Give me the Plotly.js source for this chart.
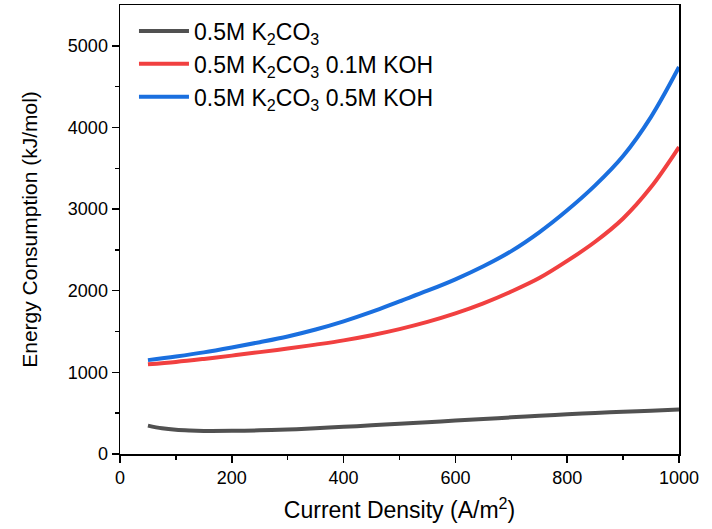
<!DOCTYPE html>
<html>
<head>
<meta charset="utf-8">
<script src="https://cdn.plot.ly/plotly-3.0.1.min.js"></script>
<style>html,body{margin:0;padding:0;background:#fff;}#chart{width:712px;height:529px;}</style>
</head>
<body>
<div id="chart"></div>
<script>
const currentDensity = [50,100,150,200,250,300,350,400,450,500,550,600,650,700,750,800,850,900,950,1000];
const currentDensityK2co3 = [50,75,100,125,150,200,250,300,350,400,450,500,550,600,650,700,750,800,850,900,950,1000];
const k2co3 = [348,315,296,287,283,284,290,300,316,333,351,370,389,409,429,449,468,486,502,517,531,544];
const k2co3Koh01 = [1098,1128,1165,1205,1248,1292,1340,1392,1455,1530,1618,1722,1845,1990,2155,2365,2600,2885,3270,3760];
const k2co3Koh05 = [1150,1195,1245,1305,1370,1440,1525,1625,1740,1870,2000,2140,2300,2485,2715,2985,3290,3650,4130,4740];
const seriesNames = ["0.5M K<sub>2</sub>CO<sub>3</sub>", "0.5M K<sub>2</sub>CO<sub>3</sub> 0.1M KOH", "0.5M K<sub>2</sub>CO<sub>3</sub> 0.5M KOH"];
const seriesColors = ["#515151", "#F14040", "#1A6FDF"];
const xTitle = "Current Density (A/m<sup>2</sup>)";
const yTitle = "Energy Consumption (kJ/mol)";

const xs = [currentDensityK2co3, currentDensity, currentDensity];
const ys = [k2co3, k2co3Koh01, k2co3Koh05];
const traces = ys.map((y, i) => ({
  x: xs[i], y: y, type: "scatter", mode: "lines",
  name: seriesNames[i],
  line: {color: seriesColors[i], width: 4, shape: "spline", smoothing: 1}
}));

const axisCommon = {
  showgrid: false, zeroline: false, showline: true, linecolor: "#000", linewidth: 1.5,
  mirror: true, ticks: "outside", ticklen: 7, tickwidth: 1.5, tickcolor: "#000",
  tickfont: {family: "Liberation Sans, Arial, sans-serif", size: 18, color: "#000"}
};

const layout = {
  width: 712, height: 529,
  margin: {l: 120, r: 33, t: 5, b: 75},
  paper_bgcolor: "#fff", plot_bgcolor: "#fff",
  font: {family: "Liberation Sans, Arial, sans-serif", color: "#000"},
  xaxis: Object.assign({}, axisCommon, {
    range: [0, 1000], tickvals: [0,200,400,600,800,1000],
    minor: {tickvals: [100,300,500,700,900], ticks: "outside", ticklen: 4, tickwidth: 1.5, tickcolor: "#000"},
    title: {text: xTitle, font: {size: 23, color: "#000"}, standoff: 15}
  }),
  yaxis: Object.assign({}, axisCommon, {
    range: [0, 5500], tickvals: [0,1000,2000,3000,4000,5000],
    minor: {tickvals: [500,1500,2500,3500,4500], ticks: "outside", ticklen: 4, tickwidth: 1.5, tickcolor: "#000"},
    title: {text: yTitle, font: {size: 21, color: "#000"}, standoff: 24}
  }),
  showlegend: true,
  legend: {
    x: 0.025, y: 0.99, xanchor: "left", yanchor: "top",
    bgcolor: "rgba(0,0,0,0)", borderwidth: 0,
    font: {size: 23, color: "#000"}, itemwidth: 50
  }
};

Plotly.newPlot("chart", traces, layout, {displayModeBar: false, staticPlot: true});
</script>
</body>
</html>
